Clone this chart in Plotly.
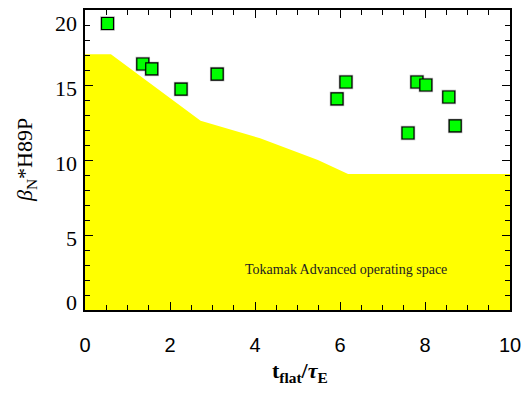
import plotly.graph_objects as go

# Data
pts_x = [0.53, 1.36, 1.57, 2.26, 3.11, 5.93, 6.14, 7.60, 7.81, 8.02, 8.56, 8.71]
pts_y = [19.1, 16.4, 16.07, 14.73, 15.73, 14.07, 15.2, 11.8, 15.2, 15.0, 14.2, 12.27]

region_x = [0, 0.61, 2.72, 4.12, 5.48, 6.19, 10]
region_y = [17.05, 17.05, 12.62, 11.45, 10.0, 9.07, 9.07]

x_ticks = [0, 2, 4, 6, 8, 10]
y_ticks = [0, 5, 10, 15, 20]
y_tick_shift = {0: 8, 5: -3, 10: -3, 15: -3, 20: -13}

fig = go.Figure()
fig.add_trace(go.Scatter(x=region_x, y=region_y, mode="lines", fill="tozeroy",
                         fillcolor="#FFFF00", line=dict(width=0, color="#FFFF00"),
                         hoverinfo="skip", showlegend=False))
fig.add_trace(go.Scatter(x=pts_x, y=pts_y, mode="markers",
                         marker=dict(symbol="square", size=14.5, color="rgba(90,90,90,0.45)",
                                     line=dict(width=0)),
                         hoverinfo="skip", showlegend=False))
fig.add_trace(go.Scatter(x=pts_x, y=pts_y, mode="markers",
                         marker=dict(symbol="square", size=12, color="#00FF00",
                                     line=dict(color="black", width=1.2)),
                         showlegend=False))

axis_common = dict(showgrid=False, zeroline=False, showline=True, linecolor="black",
                   linewidth=1.5, mirror="ticks", ticks="inside", ticklen=8,
                   tickwidth=1, tickcolor="black", automargin=False)

fig.update_xaxes(range=[0, 10], tickvals=x_ticks, ticktext=[str(v) for v in x_ticks],
                 tickfont=dict(family="Liberation Sans", size=20, color="black"),
                 ticklabelstandoff=16,
                 minor=dict(dtick=0.5, ticks="inside", ticklen=5, tickcolor="black", tickwidth=1),
                 **axis_common)
fig.update_yaxes(range=[0, 20], tickvals=y_ticks, showticklabels=False,
                 minor=dict(dtick=1, ticks="inside", ticklen=5, tickcolor="black", tickwidth=1),
                 **axis_common)

for v in y_ticks:
    fig.add_annotation(x=0, y=v, xref="paper", yref="y", text=str(v), showarrow=False,
                       xanchor="right", yanchor="middle", xshift=-6, yshift=y_tick_shift[v],
                       font=dict(family="Liberation Serif, Times New Roman, serif", size=22,
                                 color="black"))

fig.add_annotation(x=3.72, y=2.67, xref="x", yref="y", text="Tokamak Advanced operating space",
                   showarrow=False, xanchor="left", yanchor="middle",
                   font=dict(family="Liberation Serif, serif", size=14, color="#222222"))
fig.add_annotation(x=(300 - 85) / 425, y=(310 - 372) / 300, xref="paper", yref="paper",
                   text="<b>t<sub>flat</sub>/<i>τ</i><sub>E</sub></b>", showarrow=False,
                   xanchor="center", yanchor="middle",
                   font=dict(family="Liberation Serif, serif", size=22, color="black"))
fig.add_annotation(x=(26 - 85) / 425, y=0.5, xref="paper", yref="paper",
                   text="<i>β</i><sub>N</sub>*H89P", showarrow=False, textangle=-90,
                   xanchor="center", yanchor="middle",
                   font=dict(family="Liberation Serif, serif", size=22, color="black"))

fig.update_layout(width=525, height=393, margin=dict(l=85, r=15, t=10, b=83),
                  plot_bgcolor="white", paper_bgcolor="white")
fig.write_html("out.html")
